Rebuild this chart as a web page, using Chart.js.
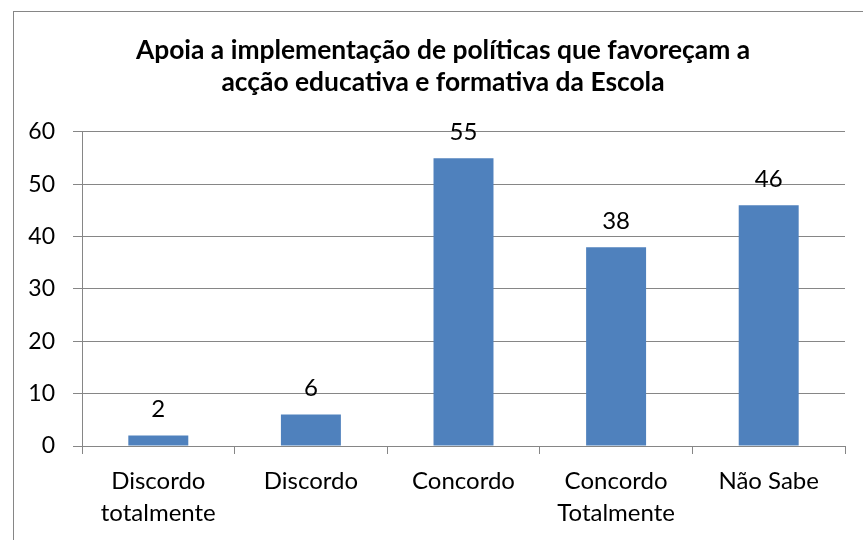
<!DOCTYPE html>
<html>
<head>
<meta charset="utf-8">
<script src="https://cdn.jsdelivr.net/npm/chart.js@4/dist/chart.umd.min.js"></script>
<style>
html,body{margin:0;padding:0;background:#fff;}
canvas{display:block;}
</style>
</head>
<body>
<canvas id="c" width="863" height="540"></canvas>
<script>
const titleLines = ["Apoia a implementação de políticas que favoreçam a", "acção educativa e formativa da Escola"];
const categories = [["Discordo", "totalmente"], "Discordo", "Concordo", ["Concordo", "Totalmente"], "Não Sabe"];
const values = [2, 6, 55, 38, 46];
const yTicks = [0, 10, 20, 30, 40, 50, 60];

const FONT = "Lato, 'Open Sans', sans-serif";
const GRID = "#868686";

const frame = {
  id: 'frame',
  beforeDraw(chart) {
    const ctx = chart.ctx;
    ctx.save();
    ctx.fillStyle = '#fff';
    ctx.fillRect(0, 0, chart.width, chart.height);
    ctx.strokeStyle = GRID;
    ctx.lineWidth = 1;
    ctx.strokeRect(13.5, 11.5, 1000, 1000);
    ctx.restore();
  }
};

const valueLabels = {
  id: 'valueLabels',
  afterDatasetsDraw(chart) {
    const ctx = chart.ctx;
    const meta = chart.getDatasetMeta(0);
    ctx.save();
    ctx.font = "24px " + FONT;
    ctx.fillStyle = '#000';
    ctx.textAlign = 'center';
    ctx.textBaseline = 'middle';
    meta.data.forEach((bar, i) => {
      ctx.fillText(String(values[i]), bar.x, bar.y - 26);
    });
    ctx.restore();
  }
};

new Chart(document.getElementById('c'), {
  type: 'bar',
  data: {
    labels: categories,
    datasets: [{
      data: values,
      backgroundColor: '#4F81BD',
      borderWidth: 0,
      categoryPercentage: 1,
      barPercentage: 0.393
    }]
  },
  options: {
    responsive: false,
    animation: false,
    devicePixelRatio: 1,
    layout: { padding: { top: 34, left: 23, right: 0, bottom: 0 } },
    plugins: {
      legend: { display: false },
      tooltip: { enabled: false },
      title: {
        display: true,
        text: titleLines,
        color: '#000',
        font: { family: FONT, size: 26.4, weight: 'bold', lineHeight: 1.212 },
        padding: { top: 0, bottom: 34 }
      }
    },
    scales: {
      x: {
        offset: true,
        grid: { display: true, drawOnChartArea: false, drawTicks: true, tickLength: 8, color: GRID, offset: true },
        border: { display: true, color: GRID },
        ticks: { color: '#000', font: { family: FONT, size: 24, lineHeight: 1.3 }, padding: 12, maxRotation: 0, autoSkip: false },
        afterFit(s) { s.height = 94; }
      },
      y: {
        min: 0, max: 60,
        grid: { color: GRID, tickLength: 9, drawTicks: true },
        border: { display: true, color: GRID },
        ticks: {
          color: '#000', font: { family: FONT, size: 23 }, padding: 18, stepSize: 10,
          callback: (v) => yTicks.includes(v) ? String(v) : ''
        },
        afterFit(s) { s.width = 59; }
      },
      spacer: {
        type: 'linear',
        position: 'right',
        display: true,
        grid: { display: false, drawTicks: false },
        border: { display: false },
        ticks: { display: false },
        afterFit(s) { s.width = 18; }
      }
    }
  },
  plugins: [frame, valueLabels]
});
</script>
</body>
</html>
